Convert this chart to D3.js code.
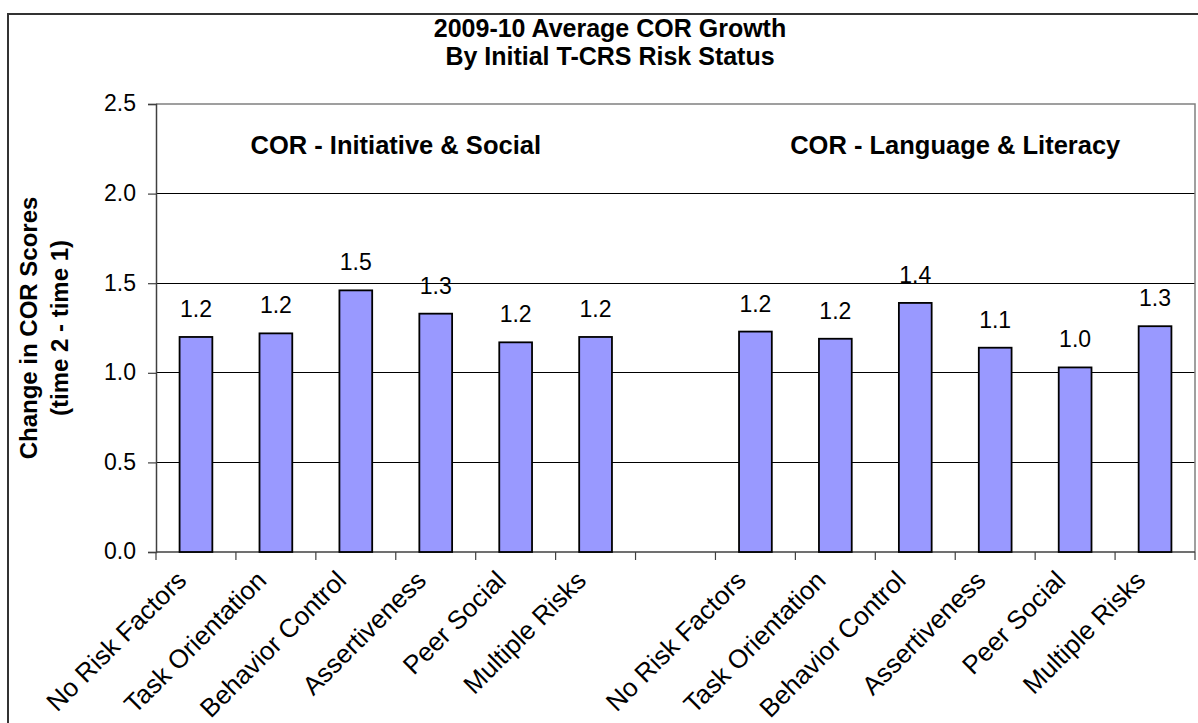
<!DOCTYPE html>
<html>
<head>
<meta charset="utf-8">
<script src="https://cdn.jsdelivr.net/npm/d3@7"></script>
<style>
  html, body { margin: 0; padding: 0; background: #fff; }
  svg { display: block; font-family: Arial, "Liberation Sans", sans-serif; }
</style>
</head>
<body>
<svg id="chart" width="1198" height="723"></svg>
<script>
// Chart data
const titleLines = ["2009-10 Average COR Growth", "By Initial T-CRS Risk Status"];
const yTitleLines = ["Change in COR Scores", "(time 2 - time 1)"];
const groups = ["COR - Initiative & Social", "COR - Language & Literacy"];
const categories = ["No Risk Factors", "Task Orientation", "Behavior Control", "Assertiveness", "Peer Social", "Multiple Risks"];
const initiativeSocial = [1.20, 1.22, 1.46, 1.33, 1.17, 1.20];
const languageLiteracy = [1.23, 1.19, 1.39, 1.14, 1.03, 1.26];
const yTicks = [0, 0.5, 1.0, 1.5, 2.0, 2.5];

const svg = d3.select("#chart");
const plot = { left: 156, right: 1195, top: 104, bottom: 552 };

// Outer chart frame (extends past the bottom/right of the view)
svg.append("rect")
  .attr("x", 8).attr("y", 14)
  .attr("width", 1200).attr("height", 720)
  .attr("fill", "#fff").attr("stroke", "#333").attr("stroke-width", 2);

// One slot per category in each group, with an empty slot between groups
const slots = [];
[initiativeSocial, languageLiteracy].forEach((vals, g) => {
  vals.forEach((v, j) => slots.push({ group: g, label: categories[j], value: v, slot: g * (categories.length + 1) + j }));
});
const nSlots = categories.length * 2 + 1;

const x = d3.scaleBand().domain(d3.range(nSlots)).range([plot.left, plot.right]).padding(0);
const y = d3.scaleLinear().domain([0, 2.5]).range([plot.bottom, plot.top]);
const fmt = d3.format(".1f");

// Horizontal gridlines
svg.append("g").selectAll("line")
  .data(yTicks.filter(t => t > 0 && t < 2.5))
  .join("line")
  .attr("x1", plot.left).attr("x2", plot.right)
  .attr("y1", d => y(d)).attr("y2", d => y(d))
  .attr("stroke", "#000").attr("stroke-width", 1).attr("shape-rendering", "crispEdges");

// Plot area border (top & right in gray)
svg.append("path")
  .attr("d", `M${plot.left},${y(2.5)}H${plot.right}V${plot.bottom}`)
  .attr("fill", "none").attr("stroke", "#808080").attr("stroke-width", 1.5);

// Y axis
const yAxis = d3.axisLeft(y).tickValues(yTicks).tickFormat(fmt).tickSize(8).tickPadding(12);
const gy = svg.append("g").attr("transform", `translate(${plot.left},0)`).call(yAxis);
gy.select(".domain").attr("stroke", "#404040").attr("stroke-width", 1.5);
gy.selectAll(".tick line").attr("stroke", "#404040").attr("stroke-width", 1.2);
gy.selectAll(".tick text")
  .attr("font-size", 23).attr("fill", "#000")
  .attr("font-family", "Arial, 'Liberation Sans', sans-serif")
  .attr("dy", "0.3em");

// X axis line and tick marks at slot boundaries
svg.append("line")
  .attr("x1", plot.left).attr("x2", plot.right)
  .attr("y1", plot.bottom).attr("y2", plot.bottom)
  .attr("stroke", "#404040").attr("stroke-width", 1.5);
svg.append("g").selectAll("line")
  .data(d3.range(nSlots + 1))
  .join("line")
  .attr("x1", i => plot.left + i * x.step()).attr("x2", i => plot.left + i * x.step())
  .attr("y1", plot.bottom).attr("y2", plot.bottom + 8)
  .attr("stroke", "#404040").attr("stroke-width", 1.2);

// Bars
const barFrac = 0.41;
svg.append("g").selectAll("rect")
  .data(slots)
  .join("rect")
  .attr("x", d => x(d.slot) + x.bandwidth() * (1 - barFrac) / 2)
  .attr("width", x.bandwidth() * barFrac)
  .attr("y", d => y(d.value))
  .attr("height", d => y(0) - y(d.value))
  .attr("fill", "#9999FF").attr("stroke", "#000").attr("stroke-width", 1.8);

// Value labels
svg.append("g").selectAll("text")
  .data(slots)
  .join("text")
  .attr("x", d => x(d.slot) + x.bandwidth() / 2)
  .attr("y", d => y(d.value) - 20)
  .attr("text-anchor", "middle")
  .attr("font-size", 23).attr("fill", "#000")
  .text(d => fmt(d.value));

// Category labels (rotated)
svg.append("g").selectAll("text")
  .data(slots)
  .join("text")
  .attr("text-anchor", "end")
  .attr("transform", d => `translate(${x(d.slot) + x.bandwidth() / 2 - 8},${plot.bottom + 30}) rotate(-45)`)
  .attr("font-size", 26).attr("fill", "#000")
  .text(d => d.label);

// Group headings
svg.append("g").selectAll("text")
  .data(groups)
  .join("text")
  .attr("x", (d, g) => {
    const first = g * (categories.length + 1);
    const last = first + categories.length - 1;
    return (x(first) + x(last) + x.bandwidth()) / 2;
  })
  .attr("y", 154)
  .attr("text-anchor", "middle")
  .attr("font-size", 25.5).attr("font-weight", "bold").attr("fill", "#000")
  .text(d => d);

// Chart title
svg.append("g").selectAll("text")
  .data(titleLines)
  .join("text")
  .attr("x", 610).attr("y", (d, i) => 37 + i * 28)
  .attr("text-anchor", "middle")
  .attr("font-size", 25).attr("font-weight", "bold").attr("fill", "#000")
  .text(d => d);

// Y axis title
svg.append("g").selectAll("text")
  .data(yTitleLines)
  .join("text")
  .attr("transform", (d, i) => `translate(${37 + i * 31},${y(1.25)}) rotate(-90)`)
  .attr("text-anchor", "middle")
  .attr("font-size", 24).attr("font-weight", "bold").attr("fill", "#000")
  .text(d => d);
</script>
</body>
</html>
